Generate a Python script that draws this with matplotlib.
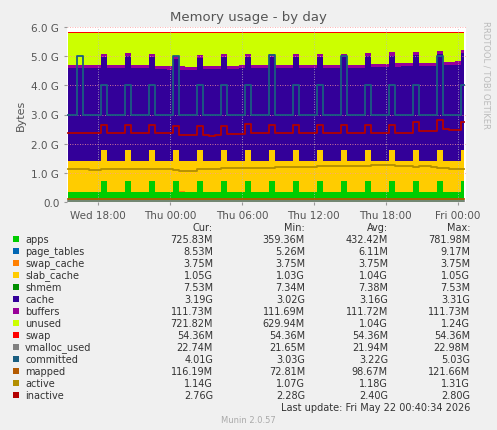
import numpy as np
import matplotlib
matplotlib.use("Agg")
import matplotlib.pyplot as plt

# time: hours since Wed 00:00, 30-min samples
t0, dt = 15.5, 0.5
apps = [0.33,0.33,0.33,0.33,0.33,0.33,
        0.72,0.33,0.33,0.33, 0.72,0.33,0.33,0.33, 0.72,0.33,0.33,0.33, 0.72,0.35,0.34,0.33,
        0.72,0.33,0.33,0.33, 0.72,0.33,0.33,0.33, 0.72,0.33,0.33,0.33, 0.72,0.33,0.33,0.33,
        0.72,0.33,0.33,0.33, 0.72,0.33,0.33,0.33, 0.72,0.33,0.33,0.33, 0.72,0.33,0.33,0.33,
        0.72,0.33,0.33,0.33, 0.72,0.33,0.33,0.33, 0.72,0.33,0.33,0.33, 0.72]
cache = [3.19,3.19,3.19,3.19,3.19,3.19,
         3.19,3.19,3.20,3.20, 3.20,3.20,3.19,3.19, 3.18,3.17,3.15,3.14, 3.12,3.12,3.12,3.12,
         3.15,3.16,3.16,3.16, 3.17,3.17,3.17,3.18, 3.18,3.18,3.18,3.18, 3.18,3.18,3.19,3.19,
         3.19,3.19,3.19,3.19, 3.19,3.19,3.18,3.18, 3.18,3.18,3.18,3.18, 3.20,3.22,3.23,3.23,
         3.23,3.24,3.25,3.25, 3.25,3.25,3.27,3.27, 3.28,3.30,3.30,3.31, 3.31]
committed = [3.00,3.00,5.00,3.00,3.00,3.00,
             4.00,3.00,3.00,3.00, 4.00,3.00,3.00,3.00, 4.00,3.00,3.00,3.00, 5.00,3.00,3.00,3.00,
             4.00,3.00,3.00,3.00, 4.00,3.00,3.00,3.00, 4.00,3.00,3.00,3.00, 5.03,3.00,3.00,3.00,
             4.00,3.00,3.00,3.00, 4.00,3.00,3.00,3.00, 5.00,3.00,3.00,3.00, 4.00,3.00,3.00,3.00,
             4.00,3.00,3.00,3.00, 4.00,3.00,3.00,3.00, 5.00,3.00,3.00,3.00, 4.01]
inactive = [2.35,2.35,2.35,2.35,2.35,2.35,
            2.65,2.35,2.35,2.35, 2.65,2.35,2.35,2.35, 2.65,2.35,2.35,2.35, 2.60,2.30,2.30,2.30,
            2.60,2.30,2.28,2.30, 2.62,2.32,2.32,2.32, 2.68,2.38,2.38,2.38, 2.65,2.35,2.35,2.35,
            2.65,2.35,2.35,2.35, 2.65,2.35,2.35,2.35, 2.65,2.35,2.35,2.35, 2.65,2.35,2.35,2.35,
            2.65,2.35,2.35,2.35, 2.75,2.45,2.45,2.45, 2.80,2.50,2.48,2.48, 2.76]
active = [1.12,1.12,1.12,1.12,1.11,1.11,
          1.13,1.13,1.13,1.12, 1.12,1.12,1.12,1.12, 1.14,1.14,1.14,1.12, 1.10,1.07,1.07,1.08,
          1.12,1.13,1.14,1.14, 1.15,1.17,1.17,1.17, 1.17,1.16,1.16,1.16, 1.18,1.19,1.19,1.19,
          1.19,1.20,1.20,1.21, 1.24,1.24,1.24,1.24, 1.24,1.25,1.25,1.25, 1.24,1.27,1.28,1.28,
          1.28,1.24,1.24,1.24, 1.21,1.22,1.22,1.21, 1.18,1.16,1.14,1.14, 1.14]
page_tables, swap_cache, slab_cache, shmem, buffers = 0.0085, 0.0038, 1.05, 0.0075, 0.11
total_mem, swap, vmalloc_used, mapped = 5.78, 0.054, 0.022, 0.10

n = len(apps)
x = t0 + dt * np.arange(n)
apps_a = np.array(apps); cache_a = np.array(cache)
const = lambda v: np.full(n, v)
used = apps_a + page_tables + swap_cache + slab_cache + shmem + cache_a + buffers
unused = total_mem - used

stack = [("apps", apps_a, "#00CC00"), ("page_tables", const(page_tables), "#0066B3"),
         ("swap_cache", const(swap_cache), "#FF8000"), ("slab_cache", const(slab_cache), "#FFCC00"),
         ("shmem", const(shmem), "#008F00"), ("cache", cache_a, "#330099"),
         ("buffers", const(buffers), "#990099"), ("unused", unused, "#CCFF00"),
         ("swap", const(swap), "#FF0000")]
lines = [("vmalloc_used", const(vmalloc_used), "#808080"), ("committed", np.array(committed), "#1A5E80"),
         ("mapped", const(mapped), "#B35A00"), ("active", np.array(active), "#B38F00"),
         ("inactive", np.array(inactive), "#B30000")]

W, H = 497, 431
fig = plt.figure(figsize=(W/100, H/100), dpi=100, facecolor="#F0F0F0")
ax = fig.add_axes([67/W, (H-203)/H, 399/W, 175/H], facecolor="white")
ax.stackplot(x, *[s[1] for s in stack], colors=[s[2] for s in stack], step="mid", linewidth=0)
for name, v, c in lines:
    ax.step(x, v, where="mid", color=c, lw=1.3)
ax.set_xlim(15.4, 48.7)
ax.set_ylim(0, 6.0)
ax.set_yticks(np.arange(0, 6.01, 1.0))
ax.set_yticklabels(["0.0"] + [f"{v:.1f} G" for v in np.arange(1, 6.01, 1.0)], fontsize=7.5, color="#555555")
ax.set_xticks([18, 24, 30, 36, 42, 48])
ax.set_xticklabels(["Wed 18:00", "Thu 00:00", "Thu 06:00", "Thu 12:00", "Thu 18:00", "Fri 00:00"],
                   fontsize=7.5, color="#555555")
ax.tick_params(length=2, colors="#999999", labelcolor="#555555")
ax.grid(axis="y", color="#FF9999", ls=(0, (1, 2)), lw=0.6)
ax.grid(axis="x", color="#BBBBBB", ls=(0, (1, 2)), lw=0.6)
for s in ax.spines.values():
    s.set_visible(False)
ax.set_ylabel("Bytes", fontsize=8, color="#555555")
fig.text(0.5, 1 - 17/H, "Memory usage - by day", ha="center", va="center", fontsize=9.5, color="#555555")
fig.text(486/W, 1 - 75/H, "RRDTOOL / TOBI OETIKER", rotation=270, ha="center", va="center",
         fontsize=6, color="#BBBBBB")

cur = ["725.83M","8.53M","3.75M","1.05G","7.53M","3.19G","111.73M","721.82M","54.36M","22.74M","4.01G","116.19M","1.14G","2.76G"]
mn = ["359.36M","5.26M","3.75M","1.03G","7.34M","3.02G","111.69M","629.94M","54.36M","21.65M","3.03G","72.81M","1.07G","2.28G"]
avg = ["432.42M","6.11M","3.75M","1.04G","7.38M","3.16G","111.72M","1.04G","54.36M","21.94M","3.22G","98.67M","1.18G","2.40G"]
mx = ["781.98M","9.17M","3.75M","1.05G","7.53M","3.31G","111.73M","1.24G","54.36M","22.98M","5.03G","121.66M","1.31G","2.80G"]
fs = 7
for xx, h in [(213, "Cur:"), (305, "Min:"), (388, "Avg:"), (470, "Max:")]:
    fig.text(xx/W, 1 - 228/H, h, ha="right", va="center", fontsize=fs, color="#333333")
items = stack + lines
for i, (name, v, c) in enumerate(items):
    y = 1 - (240 + i*12.0)/H
    fig.patches.append(plt.Rectangle((13/W, y - 3/H), 6/W, 6/H, transform=fig.transFigure,
                                     facecolor=c, edgecolor="none"))
    fig.text(25/W, y, name, ha="left", va="center", fontsize=fs, color="#333333")
    for xx, col in [(213, cur), (305, mn), (388, avg), (470, mx)]:
        fig.text(xx/W, y, col[i], ha="right", va="center", fontsize=fs, color="#333333")
fig.text(470/W, 1 - 408/H, "Last update: Fri May 22 00:40:34 2026", ha="right", va="center", fontsize=fs, color="#333333")
fig.text(248/W, 1 - 421/H, "Munin 2.0.57", ha="center", va="center", fontsize=6, color="#AAAAAA")
fig.savefig("out.png", dpi=100, facecolor=fig.get_facecolor())
